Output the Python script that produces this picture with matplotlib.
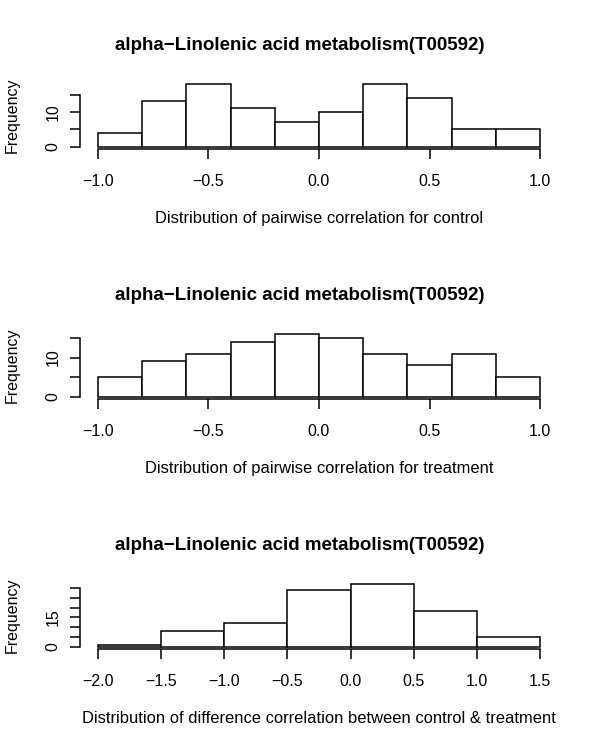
import numpy as np
import matplotlib.pyplot as plt

plt.rcParams['font.family'] = ['Liberation Sans', 'DejaVu Sans']
plt.rcParams['axes.unicode_minus'] = True

title = "alpha\u2212Linolenic acid metabolism(T00592)"

# histogram bins and counts
control_breaks = [-1.0, -0.8, -0.6, -0.4, -0.2, 0.0, 0.2, 0.4, 0.6, 0.8, 1.0]
control_counts = [4, 13, 18, 11, 7, 10, 18, 14, 5, 5]

treatment_breaks = [-1.0, -0.8, -0.6, -0.4, -0.2, 0.0, 0.2, 0.4, 0.6, 0.8, 1.0]
treatment_counts = [5, 9, 11, 14, 16, 15, 11, 8, 11, 5]

diff_breaks = [-2.0, -1.5, -1.0, -0.5, 0.0, 0.5, 1.0, 1.5]
diff_counts = [1, 8, 12, 29, 32, 18, 5]

panels = [
    (control_breaks, control_counts, [-1.0, -0.5, 0.0, 0.5, 1.0],
     [0, 5, 10, 15], {0: "0", 10: "10"},
     "Distribution of pairwise correlation for control"),
    (treatment_breaks, treatment_counts, [-1.0, -0.5, 0.0, 0.5, 1.0],
     [0, 5, 10, 15], {0: "0", 10: "10"},
     "Distribution of pairwise correlation for treatment"),
    (diff_breaks, diff_counts, [-2.0, -1.5, -1.0, -0.5, 0.0, 0.5, 1.0, 1.5],
     [0, 5, 10, 15, 20, 25, 30], {0: "0", 15: "15"},
     "Distribution of difference correlation between control & treatment"),
]

fig = plt.figure(figsize=(6, 7.5), dpi=100)
W, H = 600, 750
left_px, right_px = 80.3, 557.7

for i, (breaks, counts, xticks, yticks, ylabs, xlabel) in enumerate(panels):
    top_px = 81.6 + 250 * i
    bot_px = 149.2 + 250 * i
    ax = fig.add_axes([left_px / W, 1 - bot_px / H, (right_px - left_px) / W, (bot_px - top_px) / H])
    b = np.array(breaks)
    c = np.array(counts)
    ax.bar(b[:-1], c, width=np.diff(b), align='edge', color='white',
           edgecolor='black', linewidth=1.1)
    xr = b[-1] - b[0]
    ax.set_xlim(b[0] - 0.04 * xr, b[-1] + 0.04 * xr)
    ym = c.max()
    ax.set_ylim(-0.04 * ym, ym * 1.04)
    for s in ['top', 'right']:
        ax.spines[s].set_visible(False)
    ax.spines['bottom'].set_bounds(xticks[0], xticks[-1])
    ax.spines['left'].set_bounds(yticks[0], yticks[-1])
    ax.spines['bottom'].set_linewidth(1.1)
    ax.spines['left'].set_linewidth(1.1)
    ax.set_xticks(xticks)
    ax.set_xticklabels([f"{v:.1f}".replace("-", "\u2212") for v in xticks])
    ax.set_yticks(yticks)
    ax.set_yticklabels([ylabs.get(v, "") for v in yticks], rotation=90, va='center')
    ax.tick_params(axis='both', length=7, width=1.1, labelsize=11.5)
    ax.tick_params(axis='x', pad=10.5)
    ax.tick_params(axis='y', pad=7)
    ax.set_xlabel(xlabel, fontsize=11.9, labelpad=16.5)
    ax.set_ylabel("Frequency", fontsize=11.5, labelpad=19)
    # title sits at the middle of the figure, not of the axes
    ax.set_title(title, fontsize=13.5, fontweight='bold', pad=22.5,
                 x=(W / 2 - left_px) / (right_px - left_px))

fig.savefig("out.png", dpi=100)
